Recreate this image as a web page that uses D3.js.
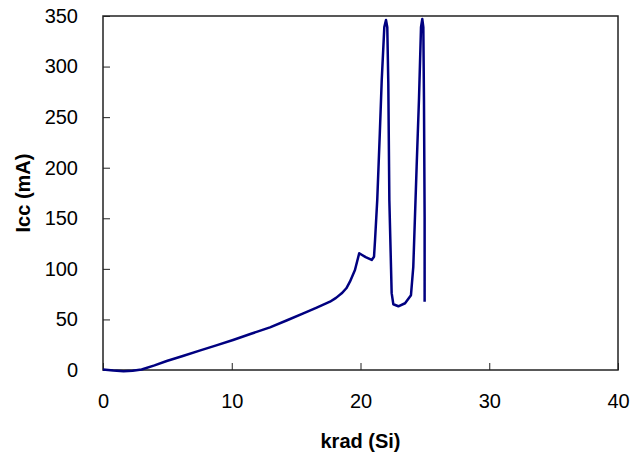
<!DOCTYPE html>
<html>
<head>
<meta charset="utf-8">
<script src="https://cdn.jsdelivr.net/npm/d3@7"></script>
<style>
  body { margin: 0; background: #fff; }
  text { font-family: Arial, "Liberation Sans", sans-serif; }
</style>
</head>
<body>
<div id="okvir"></div>
<script>
// podaci očitani sa slike
const krad = [0, 0.8, 1.6, 2.3, 3.0, 4.0, 4.95, 6.2, 7.5, 8.8, 10.1, 11.5, 12.97, 14.3, 15.56, 16.6, 17.63, 18.1, 18.54, 18.9, 19.18, 19.57, 19.9, 20.4, 20.87, 21.05, 21.13, 21.3, 21.5, 21.65, 21.85, 21.98, 22.08, 22.16, 22.24, 22.42, 22.55, 22.94, 23.46, 23.92, 24.1, 24.36, 24.54, 24.7, 24.8, 24.88, 24.93, 24.98, 24.98]
const icc = [0.5, -0.6, -1.3, -0.8, 0.5, 4.6, 8.9, 13.8, 19.1, 24.4, 29.7, 35.8, 42.2, 49.2, 56, 61.7, 67.5, 71.3, 75.8, 80.8, 87.3, 98.9, 115.4, 111.6, 108.8, 112, 128.5, 168, 234, 287, 339, 346, 339, 283, 168, 76, 65, 63, 66, 74, 102, 201, 267, 339, 347, 339, 267, 151, 67.5]
const xTicks = [0, 10, 20, 30, 40]
const yTicks = [0, 50, 100, 150, 200, 250, 300, 350]
const xNaslov = "krad (Si)"
const yNaslov = "Icc (mA)"

const dataset = krad.map((k, i) => ({ krad: k, icc: icc[i] }))

const dimenzije = {
  sirina: 631,
  visina: 457,
  margine: { top: 16, right: 13, bottom: 87, left: 103 },
}
dimenzije.grSirina = dimenzije.sirina - dimenzije.margine.left - dimenzije.margine.right
dimenzije.grVisina = dimenzije.visina - dimenzije.margine.top - dimenzije.margine.bottom

const okvir = d3.select("#okvir")
  .append("svg")
    .attr("width", dimenzije.sirina)
    .attr("height", dimenzije.visina)

const granice = okvir.append("g")
  .attr("transform", `translate(${dimenzije.margine.left}, ${dimenzije.margine.top})`)

const xSkala = d3.scaleLinear()
  .domain([0, 40])
  .range([0, dimenzije.grSirina])
const ySkala = d3.scaleLinear()
  .domain([0, 350])
  .range([dimenzije.grVisina, 0])

// okvir grafa
granice.append("rect")
  .attr("width", dimenzije.grSirina)
  .attr("height", dimenzije.grVisina)
  .attr("fill", "none")
  .attr("stroke", "#222")
  .attr("stroke-width", 1.5)

const xOs = granice.append("g")
  .attr("transform", `translate(0, ${dimenzije.grVisina})`)
  .call(d3.axisBottom(xSkala).tickValues(xTicks).tickSizeInner(-7).tickSizeOuter(0).tickPadding(24))
const yOs = granice.append("g")
  .call(d3.axisLeft(ySkala).tickValues(yTicks).tickSizeInner(-7).tickSizeOuter(0).tickPadding(25))

granice.selectAll(".domain").remove()
granice.selectAll(".tick line").attr("stroke", "#222").attr("stroke-width", 1)
granice.selectAll(".tick text")
  .attr("font-family", "Arial, 'Liberation Sans', sans-serif")
  .attr("font-size", 20)
  .attr("fill", "#000")

// linija
const linija = d3.line()
  .x(d => xSkala(d.krad))
  .y(d => ySkala(d.icc))

granice.append("path")
  .datum(dataset)
  .attr("d", linija)
  .attr("fill", "none")
  .attr("stroke", "#000080")
  .attr("stroke-width", 2.5)
  .attr("stroke-linejoin", "round")

// naslovi osi
okvir.append("text")
  .attr("x", dimenzije.margine.left + dimenzije.grSirina / 2)
  .attr("y", 448)
  .attr("text-anchor", "middle")
  .attr("font-size", 20)
  .attr("font-weight", "bold")
  .text(xNaslov)

okvir.append("text")
  .attr("transform", `translate(30, ${dimenzije.margine.top + dimenzije.grVisina / 2}) rotate(-90)`)
  .attr("text-anchor", "middle")
  .attr("font-size", 20)
  .attr("font-weight", "bold")
  .text(yNaslov)
</script>
</body>
</html>
